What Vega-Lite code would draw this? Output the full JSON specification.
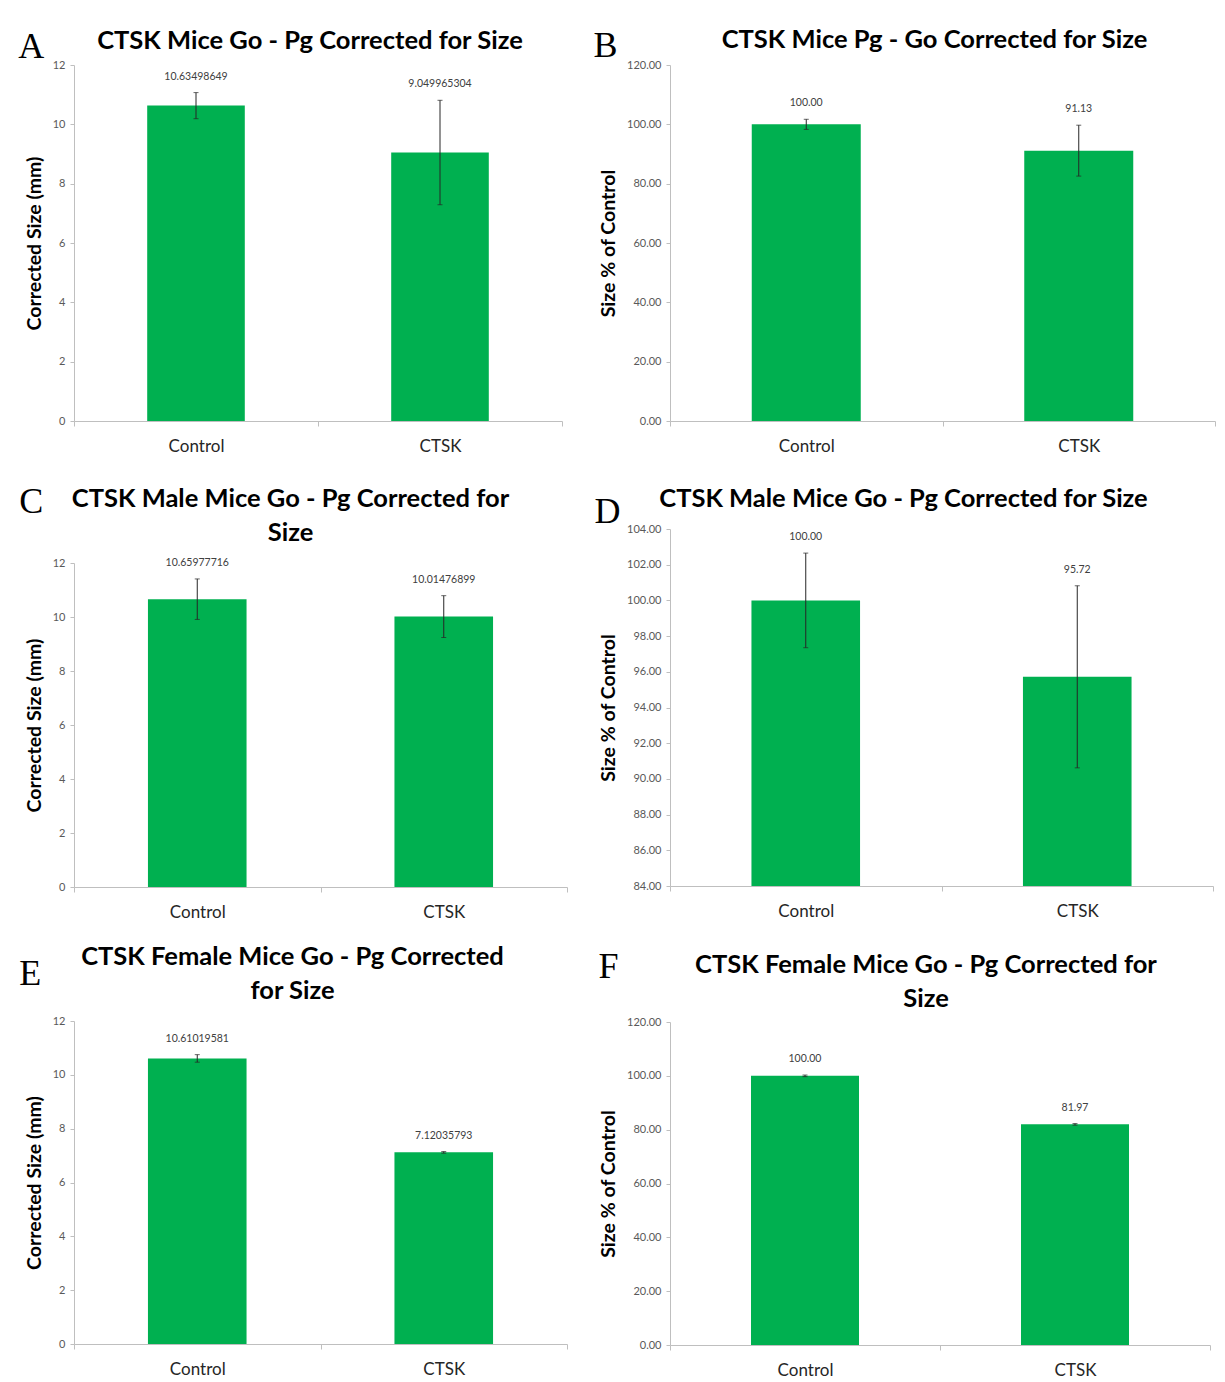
{
  "$schema": "https://vega.github.io/schema/vega-lite/v6.json",
  "padding": {"left": 18, "top": 27, "right": 0, "bottom": 0},
  "spacing": 25,
  "config": {
    "view": {"stroke": null},
    "font": "Lato",
    "title": {"font": "Lato", "fontSize": 25.5, "fontWeight": "bold", "color": "#000000", "anchor": "middle", "frame": "group", "offset": 7},
    "axisY": {"grid": false, "domainColor": "#bfbfbf", "tickColor": "#bfbfbf", "tickSize": 4, "labelFontSize": 11, "labelColor": "#595959", "labelPadding": 5, "labelOverlap": false, "labelSeparation": 0, "titleFont": "Lato", "titleFontSize": 19.5, "titleFontWeight": "bold", "titleColor": "#000000", "titlePadding": 8},
    "axisX": {"grid": false, "domainColor": "#bfbfbf", "tickColor": "#bfbfbf", "tickSize": 5, "tickBand": "extent", "labelAngle": 0, "labelFontSize": 17, "labelColor": "#262626", "labelPadding": 12, "title": null},
    "bar": {"color": "#00b050"},
    "rule": {"color": "#262626", "strokeWidth": 1},
    "tick": {"color": "#262626", "thickness": 1, "size": 5},
    "text": {"fontSize": 10.5, "color": "#404040", "dy": -16, "baseline": "middle"}
  },
  "datasets": {
    "allMice": [
      {"group": "Control", "value": 10.63498649, "lo": 10.19, "hi": 11.07, "label": "10.63498649"},
      {"group": "CTSK", "value": 9.049965304, "lo": 7.29, "hi": 10.81, "label": "9.049965304"}
    ],
    "allMicePct": [
      {"group": "Control", "value": 100.0, "lo": 98.3, "hi": 101.7, "label": "100.00"},
      {"group": "CTSK", "value": 91.13, "lo": 82.55, "hi": 99.71, "label": "91.13"}
    ],
    "maleMice": [
      {"group": "Control", "value": 10.65977716, "lo": 9.91, "hi": 11.41, "label": "10.65977716"},
      {"group": "CTSK", "value": 10.01476899, "lo": 9.24, "hi": 10.79, "label": "10.01476899"}
    ],
    "maleMicePct": [
      {"group": "Control", "value": 100.0, "lo": 97.35, "hi": 102.65, "label": "100.00"},
      {"group": "CTSK", "value": 95.72, "lo": 90.62, "hi": 100.82, "label": "95.72"}
    ],
    "femaleMice": [
      {"group": "Control", "value": 10.61019581, "lo": 10.47, "hi": 10.75, "label": "10.61019581"},
      {"group": "CTSK", "value": 7.12035793, "lo": 7.09, "hi": 7.15, "label": "7.12035793"}
    ],
    "femaleMicePct": [
      {"group": "Control", "value": 100.0, "lo": 99.7, "hi": 100.3, "label": "100.00"},
      {"group": "CTSK", "value": 81.97, "lo": 81.67, "hi": 82.27, "label": "81.97"}
    ]
  },
  "hconcat": [
    {
      "spacing": 29,
      "vconcat": [
        {
          "title": {"text": "A", "anchor": "start", "frame": "bounds", "font": "Liberation Serif", "fontSize": 36, "fontWeight": "normal", "dy": 37, "dx": -6, "offset": 0},
          "vconcat": [
            {
              "width": 488, "height": 356,
              "title": {"text": "CTSK Mice Go - Pg Corrected for Size", "offset": 5, "dx": -8},
              "data": {"name": "allMice"},
              "encoding": {"x": {"field": "group", "type": "nominal", "sort": null, "scale": {"paddingInner": 0, "paddingOuter": 0}}},
              "layer": [
                {"mark": {"type": "bar", "width": {"band": 0.4}}, "encoding": {"y": {"field": "value", "type": "quantitative", "title": "Corrected Size (mm)", "scale": {"domain": [0, 12], "nice": false}, "axis": {"values": [0, 2, 4, 6, 8, 10, 12]}}}},
                {"mark": "rule", "encoding": {"y": {"field": "lo", "type": "quantitative", "title": "Corrected Size (mm)"}, "y2": {"field": "hi"}}},
                {"mark": "tick", "encoding": {"y": {"field": "lo", "type": "quantitative", "title": "Corrected Size (mm)"}}},
                {"mark": "tick", "encoding": {"y": {"field": "hi", "type": "quantitative", "title": "Corrected Size (mm)"}}},
                {"mark": "text", "encoding": {"y": {"field": "hi", "type": "quantitative", "title": "Corrected Size (mm)"}, "text": {"field": "label"}}}
              ]
            }
          ]
        },
        {
          "spacing": 24,
          "vconcat": [
            {
              "title": {"text": "C", "anchor": "start", "frame": "bounds", "font": "Liberation Serif", "fontSize": 36, "fontWeight": "normal", "dy": 34, "dx": -5, "offset": 0},
              "vconcat": [
                {
                  "width": 493, "height": 324,
                  "title": {"text": ["CTSK Male Mice Go - Pg Corrected for", "Size"], "lineHeight": 34, "offset": 11, "dx": -30},
                  "data": {"name": "maleMice"},
                  "encoding": {"x": {"field": "group", "type": "nominal", "sort": null, "scale": {"paddingInner": 0, "paddingOuter": 0}}},
                  "layer": [
                    {"mark": {"type": "bar", "width": {"band": 0.4}}, "encoding": {"y": {"field": "value", "type": "quantitative", "title": "Corrected Size (mm)", "scale": {"domain": [0, 12], "nice": false}, "axis": {"values": [0, 2, 4, 6, 8, 10, 12]}}}},
                    {"mark": "rule", "encoding": {"y": {"field": "lo", "type": "quantitative", "title": "Corrected Size (mm)"}, "y2": {"field": "hi"}}},
                    {"mark": "tick", "encoding": {"y": {"field": "lo", "type": "quantitative", "title": "Corrected Size (mm)"}}},
                    {"mark": "tick", "encoding": {"y": {"field": "hi", "type": "quantitative", "title": "Corrected Size (mm)"}}},
                    {"mark": "text", "encoding": {"y": {"field": "hi", "type": "quantitative", "title": "Corrected Size (mm)"}, "text": {"field": "label"}}}
                  ]
                }
              ]
            },
            {
              "title": {"text": "E", "anchor": "start", "frame": "bounds", "font": "Liberation Serif", "fontSize": 36, "fontWeight": "normal", "dy": 48, "dx": -5, "offset": 0},
              "vconcat": [
                {
                  "width": 493, "height": 323,
                  "title": {"text": ["CTSK Female Mice Go - Pg Corrected", "for Size"], "lineHeight": 34, "offset": 11, "dx": -28},
                  "data": {"name": "femaleMice"},
                  "encoding": {"x": {"field": "group", "type": "nominal", "sort": null, "scale": {"paddingInner": 0, "paddingOuter": 0}}},
                  "layer": [
                    {"mark": {"type": "bar", "width": {"band": 0.4}}, "encoding": {"y": {"field": "value", "type": "quantitative", "title": "Corrected Size (mm)", "scale": {"domain": [0, 12], "nice": false}, "axis": {"values": [0, 2, 4, 6, 8, 10, 12]}}}},
                    {"mark": "rule", "encoding": {"y": {"field": "lo", "type": "quantitative", "title": "Corrected Size (mm)"}, "y2": {"field": "hi"}}},
                    {"mark": "tick", "encoding": {"y": {"field": "lo", "type": "quantitative", "title": "Corrected Size (mm)"}}},
                    {"mark": "tick", "encoding": {"y": {"field": "hi", "type": "quantitative", "title": "Corrected Size (mm)"}}},
                    {"mark": "text", "encoding": {"y": {"field": "hi", "type": "quantitative", "title": "Corrected Size (mm)"}, "text": {"field": "label"}}}
                  ]
                }
              ]
            }
          ]
        }
      ]
    },
    {
      "spacing": 32,
      "vconcat": [
        {
          "title": {"text": "B", "anchor": "start", "frame": "bounds", "font": "Liberation Serif", "fontSize": 36, "fontWeight": "normal", "dy": 37, "dx": -5, "offset": 0},
          "vconcat": [
            {
              "width": 545, "height": 356,
              "title": {"text": "CTSK Mice Pg - Go Corrected for Size", "offset": 6, "dx": -8},
              "data": {"name": "allMicePct"},
              "encoding": {"x": {"field": "group", "type": "nominal", "sort": null, "scale": {"paddingInner": 0, "paddingOuter": 0}}},
              "layer": [
                {"mark": {"type": "bar", "width": {"band": 0.4}}, "encoding": {"y": {"field": "value", "type": "quantitative", "title": "Size % of Control", "scale": {"domain": [0, 120], "nice": false}, "axis": {"values": [0, 20, 40, 60, 80, 100, 120], "format": ".2f"}}}},
                {"mark": "rule", "encoding": {"y": {"field": "lo", "type": "quantitative", "title": "Size % of Control"}, "y2": {"field": "hi"}}},
                {"mark": "tick", "encoding": {"y": {"field": "lo", "type": "quantitative", "title": "Size % of Control"}}},
                {"mark": "tick", "encoding": {"y": {"field": "hi", "type": "quantitative", "title": "Size % of Control"}}},
                {"mark": "text", "encoding": {"y": {"field": "hi", "type": "quantitative", "title": "Size % of Control"}, "text": {"field": "label"}}}
              ]
            }
          ]
        },
        {
          "spacing": 29,
          "vconcat": [
            {
              "title": {"text": "D", "anchor": "start", "frame": "bounds", "font": "Liberation Serif", "fontSize": 36, "fontWeight": "normal", "dy": 44, "dx": -4, "offset": 0},
              "vconcat": [
                {
                  "width": 543, "height": 357,
                  "title": {"text": "CTSK Male Mice Go - Pg Corrected for Size", "offset": 11, "dx": -38},
                  "data": {"name": "maleMicePct"},
                  "encoding": {"x": {"field": "group", "type": "nominal", "sort": null, "scale": {"paddingInner": 0, "paddingOuter": 0}}},
                  "layer": [
                    {"mark": {"type": "bar", "width": {"band": 0.4}}, "encoding": {"y": {"field": "value", "type": "quantitative", "title": "Size % of Control", "scale": {"domain": [84, 104], "nice": false, "zero": false}, "axis": {"values": [84, 86, 88, 90, 92, 94, 96, 98, 100, 102, 104], "format": ".2f", "labelOverlap": false, "tickCount": 11}}, "y2": {"datum": 84}}},
                    {"mark": "rule", "encoding": {"y": {"field": "lo", "type": "quantitative", "title": "Size % of Control", "axis": {"values": [84, 86, 88, 90, 92, 94, 96, 98, 100, 102, 104], "format": ".2f", "labelOverlap": false, "tickCount": 11}}, "y2": {"field": "hi"}}},
                    {"mark": "tick", "encoding": {"y": {"field": "lo", "type": "quantitative", "title": "Size % of Control", "axis": {"values": [84, 86, 88, 90, 92, 94, 96, 98, 100, 102, 104], "format": ".2f", "labelOverlap": false, "tickCount": 11}}}},
                    {"mark": "tick", "encoding": {"y": {"field": "hi", "type": "quantitative", "title": "Size % of Control", "axis": {"values": [84, 86, 88, 90, 92, 94, 96, 98, 100, 102, 104], "format": ".2f", "labelOverlap": false, "tickCount": 11}}}},
                    {"mark": "text", "encoding": {"y": {"field": "hi", "type": "quantitative", "title": "Size % of Control", "axis": {"values": [84, 86, 88, 90, 92, 94, 96, 98, 100, 102, 104], "format": ".2f", "labelOverlap": false, "tickCount": 11}}, "text": {"field": "label"}}}
                  ]
                }
              ]
            },
            {
              "title": {"text": "F", "anchor": "start", "frame": "bounds", "font": "Liberation Serif", "fontSize": 36, "fontWeight": "normal", "dy": 33, "offset": 0},
              "vconcat": [
                {
                  "width": 540, "height": 323,
                  "title": {"text": ["CTSK Female Mice Go - Pg Corrected for", "Size"], "lineHeight": 34, "offset": 4, "dx": -14},
                  "data": {"name": "femaleMicePct"},
                  "encoding": {"x": {"field": "group", "type": "nominal", "sort": null, "scale": {"paddingInner": 0, "paddingOuter": 0}}},
                  "layer": [
                    {"mark": {"type": "bar", "width": {"band": 0.4}}, "encoding": {"y": {"field": "value", "type": "quantitative", "title": "Size % of Control", "scale": {"domain": [0, 120], "nice": false}, "axis": {"values": [0, 20, 40, 60, 80, 100, 120], "format": ".2f"}}}},
                    {"mark": "rule", "encoding": {"y": {"field": "lo", "type": "quantitative", "title": "Size % of Control"}, "y2": {"field": "hi"}}},
                    {"mark": "tick", "encoding": {"y": {"field": "lo", "type": "quantitative", "title": "Size % of Control"}}},
                    {"mark": "tick", "encoding": {"y": {"field": "hi", "type": "quantitative", "title": "Size % of Control"}}},
                    {"mark": "text", "encoding": {"y": {"field": "hi", "type": "quantitative", "title": "Size % of Control"}, "text": {"field": "label"}}}
                  ]
                }
              ]
            }
          ]
        }
      ]
    }
  ]
}
